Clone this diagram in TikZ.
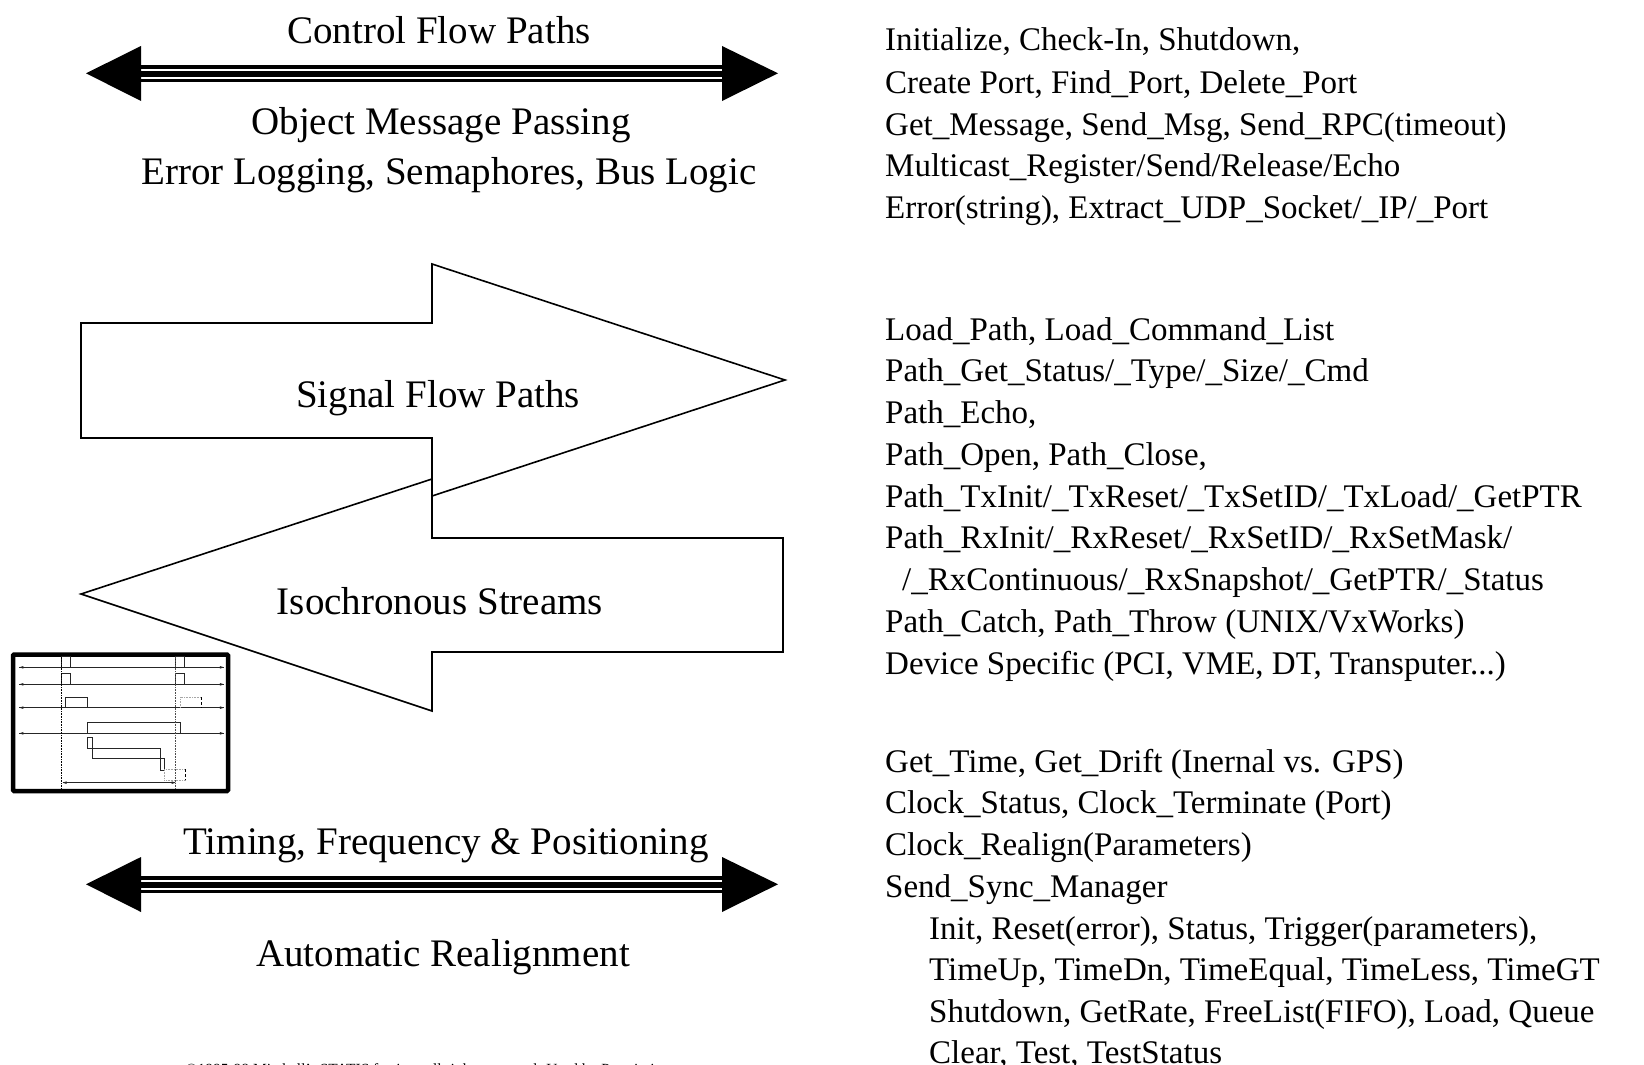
\documentclass[tikz,border=0pt]{standalone}
\usepackage{fontspec}
\setmainfont{Liberation Serif}
\begin{document}
\begin{tikzpicture}[x=1pt,y=-1pt,
  big/.style={inner sep=0pt,font=\fontsize{39}{39}\selectfont,anchor=base},
  line/.style={inner sep=0pt,font=\fontsize{33}{33}\selectfont,anchor=base west},
  fat/.style={draw=black,fill=white,line width=1.6pt,line join=miter},
  wire/.style={black!85,line width=0.75pt},
  ghost/.style={black!35,line width=0.6pt,densely dotted},
  tick/.style={fill=black!85,draw=none}]
\useasboundingbox (0,0) rectangle (1644,1065);
\fill[white] (0,0) rectangle (1644,1065);
% double-shaft arrows
\foreach \d in {0,811}{
  \begin{scope}[yshift=-\d pt]
  \fill[black] (86,73.3) -- (141,46) -- (141,101) -- cycle;
  \fill[black] (778,73.3) -- (722,46) -- (722,101) -- cycle;
  \fill[black] (141,65) rectangle (722,69);
  \fill[black] (141,71) rectangle (722,77.3);
  \fill[black] (141,79) rectangle (722,82);
  \end{scope}
}
% fat arrows
\draw[fat] (81,323) -- (432,323) -- (432,264) -- (785,380) -- (432,496) -- (432,438) -- (81,438) -- cycle;
\draw[fat] (81,594) -- (432,479) -- (432,538) -- (783,538) -- (783,652) -- (432,652) -- (432,711) -- cycle;
% left labels
\node[big] (cfp) at (439,44) {Control Flow Paths};
\node[big] (omp) at (441,134) {Object Message Passing};
\node[big] (err) at (449,184) {Error Logging, Semaphores, Bus Logic};
\node[big] (sfp) at (438,407) {Signal Flow Paths};
\node[big] (iso) at (440,614) {Isochronous Streams};
\node[big] (tfp) at (446,854) {Timing, Frequency \& Positioning};
\node[big] (aut) at (443,966) {Automatic Realignment};
\node[inner sep=0pt,font=\fontsize{15.5}{15.5}\selectfont,anchor=base] (cpy) at (428,1074) {©1995-98 Mitchell's STATIS factions all rights reserved. Used by Permission};
% inset timing chart
\draw[fill=white,draw=black,line width=4.5pt,rounded corners=1pt] (13,654.5) rectangle (228,791);
\begin{scope}[shift={(0,640)},x=0.3333pt,y=-0.3333pt]
  \foreach \yy in {82,133,203,280}{
    \draw[wire] (58,\yy) -- (672,\yy);
    \fill[tick] (58,\yy) -- (70,\yy-4) -- (70,\yy+4) -- cycle;
    \fill[tick] (672,\yy) -- (660,\yy-4) -- (660,\yy+4) -- cycle;
  }
  \draw[wire] (185,82) -- (185,50) -- (211,50) -- (211,82);
  \draw[wire] (527,82) -- (527,50) -- (553,50) -- (553,82);
  \draw[wire] (185,133) -- (185,101) -- (211,101) -- (211,133);
  \draw[wire] (527,133) -- (527,101) -- (553,101) -- (553,133);
  \draw[wire] (197,203) -- (197,172) -- (263,172) -- (263,203);
  \draw[ghost] (540,203) -- (540,172) -- (604,172);
  \draw[black,line width=0.6pt,densely dashed] (604,172) -- (604,203);
  \draw[wire] (263,280) -- (263,248) -- (540,248) -- (540,280);
  \draw[wire] (276,323) -- (276,293) -- (263,293) -- (263,325) -- (480,325) -- (480,390) -- (493,390) -- (493,356) -- (276,356) -- (276,323);
  \draw[ghost] (493,388) -- (556,388);
  \draw[ghost] (493,421) -- (556,421);
  \draw[ghost] (493,390) -- (493,421);
  \draw[black,line width=0.6pt,densely dashed] (556,388) -- (556,421);
  \draw[black,line width=0.6pt,densely dotted] (185,50) -- (185,445);
  \draw[black!70,line width=0.6pt,densely dotted] (527,50) -- (527,445);
  \draw[wire] (190,428) -- (525,428);
  \fill[tick] (188,428) -- (200,424) -- (200,432) -- cycle;
  \fill[tick] (527,428) -- (515,424) -- (515,432) -- cycle;
\end{scope}
% right column
\node[line] (a1) at (885,51) {Initialize, Check-In, Shutdown,};
\node[line] (a2) at (885,93) {Create Port, Find\_Port, Delete\_Port};
\node[line] (a3) at (885,135) {Get\_Message, Send\_Msg, Send\_RPC(timeout)};
\node[line] (a4) at (885,176) {Multicast\_Register/Send/Release/Echo};
\node[line] (a5) at (885,218) {Error(string), Extract\_UDP\_Socket/\_IP/\_Port};
\node[line] (b1) at (885,340) {Load\_Path, Load\_Command\_List};
\node[line] (b2) at (885,381) {Path\_Get\_Status/\_Type/\_Size/\_Cmd};
\node[line] (b3) at (885,423) {Path\_Echo,};
\node[line] (b4) at (885,465) {Path\_Open, Path\_Close,};
\node[line] (b5) at (885,507) {Path\_TxInit/\_TxReset/\_TxSetID/\_TxLoad/\_GetPTR};
\node[line] (b6) at (885,548) {Path\_RxInit/\_RxReset/\_RxSetID/\_RxSetMask/};
\node[line] (b7) at (902,590) {/\_RxContinuous/\_RxSnapshot/\_GetPTR/\_Status};
\node[line] (b8) at (885,632) {Path\_Catch, Path\_Throw (UNIX/VxWorks)};
\node[line] (b9) at (885,674) {Device Specific (PCI, VME, DT, Transputer...)};
\node[line] (c1) at (885,772) {Get\_Time, Get\_Drift (Inernal vs. GPS)};
\node[line] (c2) at (885,813) {Clock\_Status, Clock\_Terminate (Port)};
\node[line] (c3) at (885,855) {Clock\_Realign(Parameters)};
\node[line] (c4) at (885,897) {Send\_Sync\_Manager};
\node[line] (c5) at (929,939) {Init, Reset(error), Status, Trigger(parameters),};
\node[line] (c6) at (929,980) {TimeUp, TimeDn, TimeEqual, TimeLess, TimeGT};
\node[line] (c7) at (929,1022) {Shutdown, GetRate, FreeList(FIFO), Load, Queue};
\node[line] (c8) at (929,1063) {Clear, Test, TestStatus};
\end{tikzpicture}
\end{document}
